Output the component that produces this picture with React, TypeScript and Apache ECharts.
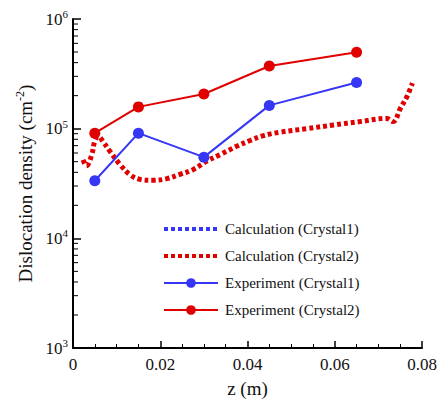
import React, { useEffect, useRef } from "react";
import * as echarts from "echarts";

const expZ = [0.005, 0.015, 0.03, 0.045, 0.065];
const expCrystal1 = [3.35e4, 9.1e4, 5.5e4, 1.63e5, 2.64e5];
const expCrystal2 = [9.1e4, 1.58e5, 2.07e5, 3.73e5, 4.98e5];

const calcCrystal1: [number, number][] = [];
const calcCrystal2Z = [
  0.0023, 0.0031, 0.0043, 0.005, 0.0058, 0.0069, 0.0085, 0.0108, 0.0131, 0.0154,
  0.0184, 0.0215, 0.0245, 0.0276, 0.0307, 0.0337, 0.0375, 0.0406, 0.0435, 0.0475,
  0.0536, 0.0597, 0.0658, 0.0719, 0.0734, 0.075, 0.0765, 0.0778,
];
const calcCrystal2Val = [
  5.2e4, 4.6e4, 5.8e4, 7.7e4, 8.5e4, 7.6e4, 6.2e4, 4.7e4, 3.8e4, 3.45e4,
  3.38e4, 3.5e4, 3.83e4, 4.25e4, 5.06e4, 5.8e4, 6.9e4, 7.8e4, 8.6e4, 9.3e4,
  1.0e5, 1.08e5, 1.16e5, 1.24e5, 1.16e5, 1.52e5, 1.94e5, 2.6e5,
];

const yMinorTicks = [
  2e3, 3e3, 4e3, 5e3, 6e3, 7e3, 8e3, 9e3,
  2e4, 3e4, 4e4, 5e4, 6e4, 7e4, 8e4, 9e4,
  2e5, 3e5, 4e5, 5e5, 6e5, 7e5, 8e5, 9e5,
];

const legendNames = [
  "Calculation (Crystal1)",
  "Calculation (Crystal2)",
  "Experiment (Crystal1)",
  "Experiment (Crystal2)",
];

const RED = "#e00000";
const BLUE = "#3636f5";
const FONT = "Liberation Serif";
const DASH = [4, 3];

export default function App() {
  const ref = useRef<HTMLDivElement>(null);
  useEffect(() => {
    if (!ref.current) return;
    const chart = echarts.init(ref.current, undefined, { renderer: "svg" });
    chart.setOption({
      animation: false,
      backgroundColor: "#fff",
      textStyle: { fontFamily: FONT },
      grid: { left: 73, right: 19, top: 19, bottom: 50, containLabel: false },
      legend: {
        orient: "vertical",
        left: 157,
        top: 214,
        itemWidth: 54,
        itemHeight: 12,
        itemGap: 7,
        textStyle: { fontFamily: FONT, fontSize: 15, color: "#111", lineHeight: 20, padding: [0, 0, 0, 2] },
        data: [
          { name: legendNames[0], itemStyle: { opacity: 0 }, lineStyle: { width: 4, type: DASH, color: BLUE } },
          { name: legendNames[1], itemStyle: { opacity: 0 }, lineStyle: { width: 4, type: DASH, color: RED } },
          { name: legendNames[2] },
          { name: legendNames[3] },
        ],
      },
      xAxis: {
        type: "value",
        min: 0,
        max: 0.08,
        interval: 0.02,
        name: "z (m)",
        nameLocation: "middle",
        nameGap: 31,
        nameTextStyle: { fontFamily: FONT, fontSize: 19, color: "#111" },
        axisLine: { lineStyle: { color: "#000", width: 2 } },
        axisTick: { inside: true, length: 7, lineStyle: { color: "#000", width: 1.5 } },
        minorTick: { show: true, splitNumber: 4, length: 4, lineStyle: { color: "#000", width: 1 } },
        axisLabel: {
          fontFamily: FONT,
          fontSize: 17,
          color: "#111",
          margin: 8,
          formatter: (v: number) => (v === 0 ? "0" : v.toFixed(2)),
        },
        splitLine: { show: false },
      },
      yAxis: {
        type: "log",
        logBase: 10,
        min: 1e3,
        max: 1e6,
        name: "Dislocation density (cm{s|-2})",
        nameLocation: "middle",
        nameGap: 36,
        nameTextStyle: {
          fontFamily: FONT,
          fontSize: 19,
          color: "#111",
          rich: {
            s: { fontFamily: FONT, fontSize: 12, color: "#111", padding: [0, 0, 10, 0] },
          },
        },
        axisLine: { show: true, lineStyle: { color: "#000", width: 2 } },
        axisTick: { inside: true, length: 8, lineStyle: { color: "#000", width: 1.5 } },
        axisLabel: {
          margin: 5,
          formatter: (v: number) => `{b|10}{s|${Math.round(Math.log10(v))}}`,
          rich: {
            b: { fontFamily: FONT, fontSize: 17, color: "#111" },
            s: { fontFamily: FONT, fontSize: 11, color: "#111", padding: [0, 0, 10, 0] },
          },
        },
        splitLine: { show: false },
      },
      series: [
        {
          type: "custom",
          silent: true,
          clip: false,
          data: yMinorTicks.map((v) => [0, v]),
          renderItem: (params: any, api: any) => {
            const p = api.coord([0, api.value(1)]);
            return {
              type: "line",
              shape: { x1: p[0], y1: p[1], x2: p[0] + 5, y2: p[1] },
              style: { stroke: "#000", lineWidth: 1 },
            };
          },
          z: 1,
        },
        {
          name: legendNames[0],
          type: "line",
          data: calcCrystal1,
          symbol: "none",
          color: BLUE,
          lineStyle: { color: BLUE, width: 5, type: DASH },
        },
        {
          name: legendNames[1],
          type: "line",
          data: calcCrystal2Z.map((z, i) => [z, calcCrystal2Val[i]]),
          symbol: "none",
          smooth: 0.4,
          color: RED,
          lineStyle: { color: RED, width: 5, type: DASH },
        },
        {
          name: legendNames[2],
          type: "line",
          data: expZ.map((z, i) => [z, expCrystal1[i]]),
          symbol: "circle",
          symbolSize: 11,
          color: BLUE,
          itemStyle: { color: BLUE },
          lineStyle: { color: BLUE, width: 2 },
        },
        {
          name: legendNames[3],
          type: "line",
          data: expZ.map((z, i) => [z, expCrystal2[i]]),
          symbol: "circle",
          symbolSize: 11,
          color: RED,
          itemStyle: { color: RED },
          lineStyle: { color: RED, width: 2 },
        },
      ],
    });
    return () => chart.dispose();
  }, []);
  return <div ref={ref} style={{ width: 441, height: 403, position: "absolute", left: 0, top: 0 }} />;
}
